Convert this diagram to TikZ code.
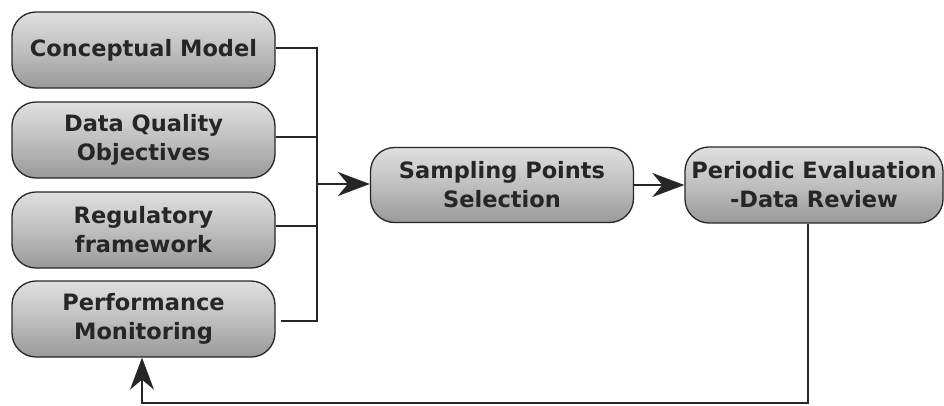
\documentclass[tikz,border=0pt]{standalone}
\usepackage{fontspec}
\setmainfont{DejaVu Sans}
\usetikzlibrary{arrows.meta}
\begin{document}
\begin{tikzpicture}[x=1pt,y=-1pt,
  pbox/.style={draw=black!85, line width=1.3pt, rounded corners=24pt,
    top color=gray!25, bottom color=gray!80, middle color=gray!50,
    align=center, inner sep=0pt,
    font=\bfseries\fontsize{22.5}{29}\selectfont, text=black!85},
  conn/.style={draw=black!85, line width=1.6pt},
  arr/.style={conn, -{Stealth[length=32pt,width=24pt,inset=10pt]}}
]
\useasboundingbox (0,0) rectangle (944,405);
\node[pbox, minimum width=263pt, minimum height=76pt] (cm) at (143.5,50) {Conceptual Model};
\node[pbox, minimum width=263pt, minimum height=76pt] (dq) at (143.5,140) {Data Quality\\Objectives};
\node[pbox, minimum width=263pt, minimum height=76pt] (rf) at (143.5,230) {Regulatory\\framework};
\node[pbox, minimum width=263pt, minimum height=76pt] (pm) at (143.5,319) {Performance\\Monitoring};
\node[pbox, minimum width=263pt, minimum height=75pt] (sp) at (502,185) {Sampling Points\\Selection};
\node[pbox, minimum width=258pt, minimum height=76pt] (pe) at (814,185) {Periodic Evaluation\\-Data Review};
\coordinate (j1) at (317,48);
\coordinate (j4) at (317,321);
\coordinate (ja) at (317,184);
\coordinate (b1) at (808,403);
\coordinate (b2) at (142,403);
\draw[conn] (cm.east |- j1) -- (j1) -- (j4) -- ([xshift=5pt]pm.east |- j4);
\draw[conn] (dq.east |- 0,137) -- (317,137);
\draw[conn] (rf.east |- 0,226) -- (317,226);
\draw[arr] (ja) -- (sp.west |- ja);
\draw[arr] (sp.east) -- (pe.west);
\draw[arr] (pe.south -| b1) -- (b1) -- (b2) -- (b2 |- pm.south);
\end{tikzpicture}
\end{document}
